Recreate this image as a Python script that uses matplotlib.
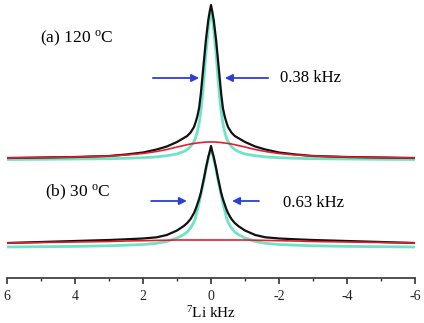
import matplotlib
matplotlib.use("Agg")
import matplotlib.pyplot as plt
import numpy as np

# ---- data (kHz, intensity in arbitrary units) ----
x_khz = [6, 5, 4, 3, 2.5, 2, 1.6, 1.3, 1.0, 0.8, 0.7, 0.6, 0.5, 0.45, 0.4, 0.35, 0.3, 0.25, 0.2, 0.15, 0.08, 0.04,
         0,
         -0.04, -0.08, -0.15, -0.2, -0.25, -0.3, -0.35, -0.4, -0.45, -0.5, -0.6, -0.7, -0.8, -1.0, -1.3, -1.6, -2,
         -2.5, -3, -4, -5, -6]

# trace (a) 120 C
a_black = [0, 0.5, 1, 2, 3.5, 5.5, 8.5, 11.5, 16, 20, 22, 25.5, 31, 36, 42, 50, 64, 82, 100, 118, 138, 146,
           153,
           146, 138, 118, 100, 82, 64, 50, 42, 36, 31, 25.5, 22, 20, 16, 11.5, 8.5, 5.5, 3.5, 2, 1, 0.5, 0]
a_cyan = [0, 0.2, 0.5, 0.8, 1.2, 1.8, 2.6, 3.8, 5.5, 8, 10, 13, 18, 22, 28, 36, 48, 64, 84, 105, 130, 141,
          150,
          141, 130, 105, 84, 64, 48, 36, 28, 22, 18, 13, 10, 8, 5.5, 3.8, 2.6, 1.8, 1.2, 0.8, 0.5, 0.2, 0]
a_red = [0, 0.4, 1, 2, 3, 4.5, 6.5, 8.5, 11, 12.5, 13.3, 14, 14.5, 14.8, 15, 15.2, 15.4, 15.6, 15.8, 15.9, 16, 16,
         16,
         16, 16, 15.9, 15.8, 15.6, 15.4, 15.2, 15, 14.8, 14.5, 14, 13.3, 12.5, 11, 8.5, 6.5, 4.5, 3, 2, 1, 0.4, 0]

# trace (b) 30 C
b_black = [0, 1, 2, 3, 3.7, 4.5, 5.7, 8, 12.5, 17, 20, 24, 30, 34, 39, 44, 50, 58, 66, 75, 86, 91,
           97,
           91, 86, 75, 66, 58, 50, 44, 39, 34, 30, 24, 20, 17, 12.5, 8, 5.7, 4.5, 3.7, 3, 2, 1, 0]
b_cyan = [0, 0.3, 0.6, 1.2, 1.8, 2.5, 3.7, 5.5, 9, 12.5, 15, 19, 25, 30, 37, 44, 52, 60, 68, 77, 88, 94,
          99,
          94, 88, 77, 68, 60, 52, 44, 37, 30, 25, 19, 15, 12.5, 9, 5.5, 3.7, 2.5, 1.8, 1.2, 0.6, 0.3, 0]
b_red = [0, 0.5, 1, 1.5, 2, 2.3, 2.6, 2.8, 3, 3, 3, 3, 3, 3, 3, 3, 3, 3, 3, 3, 3, 3,
         3,
         3, 3, 3, 3, 3, 3, 3, 3, 3, 3, 3, 3, 3, 3, 2.8, 2.6, 2.3, 2, 1.5, 1, 0.5, 0]

# vertical offsets of each stacked spectrum
offset_a = {"black": 120, "cyan": 118.5, "red": 120}
offset_b = {"black": 35, "cyan": 31, "red": 35}

labels = ["(a) 120 $^{\\mathrm{o}}$C", "(b) 30 $^{\\mathrm{o}}$C"]
widths = ["0.38 kHz", "0.63 kHz"]
xticks = [6, 4, 2, 0, -2, -4, -6]

plt.rcParams["font.family"] = ["Liberation Serif", "DejaVu Serif"]
plt.rcParams["mathtext.fontset"] = "custom"
plt.rcParams["mathtext.rm"] = "Liberation Serif"
plt.rcParams["mathtext.it"] = "Liberation Serif:italic"

W, H = 424, 323
fig = plt.figure(figsize=(W / 100, H / 100), dpi=100)
ax = fig.add_axes([7 / W, (H - 278) / H, (415 - 7) / W, 278 / H])

black = "#111111"
cyan = "#6ee3c6"
red = "#e02030"
blue = "#2b3fd6"

x = np.array(x_khz)
for off, bl, cy, rd in [(offset_a, a_black, a_cyan, a_red), (offset_b, b_black, b_cyan, b_red)]:
    ax.plot(x, np.array(cy) + off["cyan"], color=cyan, lw=2.0, solid_joinstyle="round")
    ax.plot(x, np.array(bl) + off["black"], color=black, lw=1.6, solid_joinstyle="round")
    ax.plot(x, np.array(rd) + off["red"], color=red, lw=1.2)

ax.set_xlim(6, -6)
ax.set_ylim(0, 278)

# labels
ax.text(5.03, 240, labels[0], fontsize=12.5, va="center", ha="left")
ax.text(4.88, 86, labels[1], fontsize=12.5, va="center", ha="left")
ax.text(-2.03, 200, widths[0], fontsize=12, va="center", ha="left")
ax.text(-2.12, 75, widths[1], fontsize=12, va="center", ha="left")

ap = dict(arrowstyle="-|>", color=blue, lw=1.3, mutation_scale=11, shrinkA=0, shrinkB=0)
ax.annotate("", xy=(0.35, 200), xytext=(1.71, 200), arrowprops=ap)
ax.annotate("", xy=(-0.41, 200), xytext=(-1.68, 200), arrowprops=ap)
ax.annotate("", xy=(0.71, 77), xytext=(1.76, 77), arrowprops=ap)
ax.annotate("", xy=(-0.62, 77), xytext=(-1.41, 77), arrowprops=ap)

for s in ["left", "right", "top"]:
    ax.spines[s].set_visible(False)
ax.spines["bottom"].set_color("#333333")
ax.spines["bottom"].set_linewidth(1.2)
ax.set_yticks([])
ax.set_xticks(xticks)
ax.set_xticklabels([str(t) for t in xticks])
ax.set_xticks([5, 3, 1, -1, -3, -5], minor=True)
ax.tick_params(axis="x", which="major", direction="out", length=4, width=1.1, pad=5,
               labelsize=10, colors="#222222")
ax.tick_params(axis="x", which="minor", direction="out", length=2, width=1.0, colors="#333333")
ax.set_xlabel("$^{7}$Li kHz", fontsize=11, labelpad=1)

fig.savefig("out.png", dpi=100)
